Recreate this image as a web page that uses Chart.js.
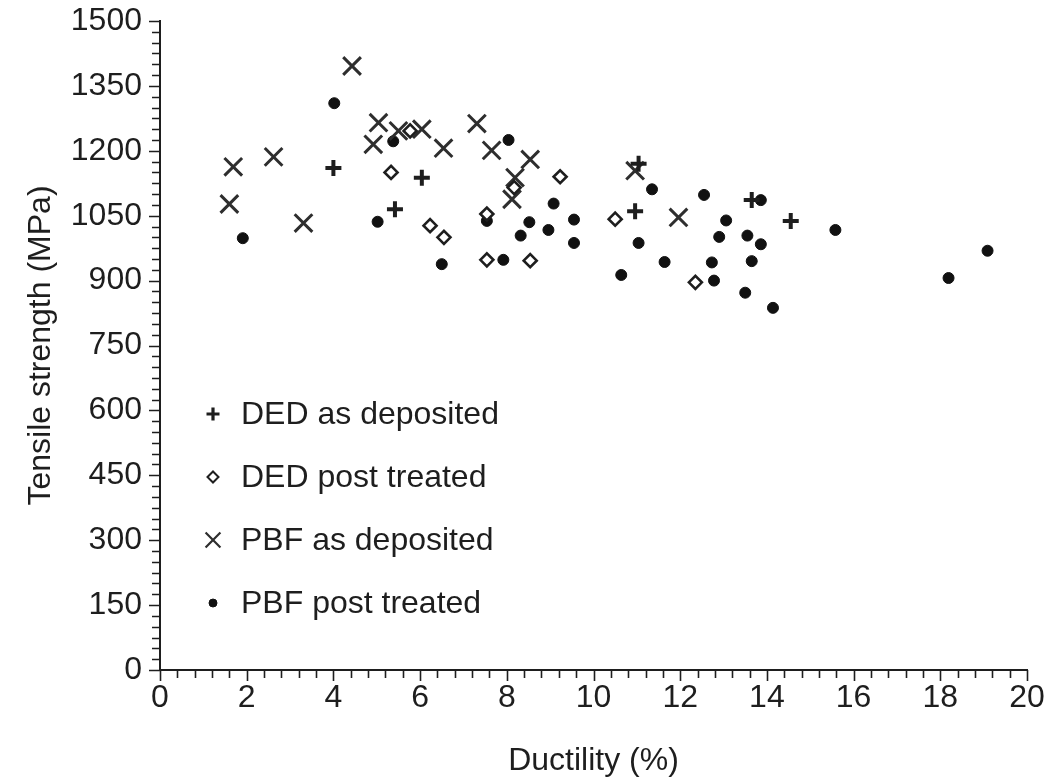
<!DOCTYPE html>
<html>
<head>
<meta charset="utf-8">
<script src="https://cdn.jsdelivr.net/npm/chart.js@4.4.1/dist/chart.umd.min.js"></script>
<style>
  html, body { margin: 0; padding: 0; background: #fff; }
</style>
</head>
<body>
<canvas id="chart" width="1051" height="780"></canvas>
<script>
/* ── data ── */
const seriesNames = ['DED as deposited', 'DED post treated', 'PBF as deposited', 'PBF post treated'];

const dedAsDepX = [4.0, 5.42, 6.04, 10.96, 11.04, 13.65, 14.55];
const dedAsDepY = [1160, 1065, 1138, 1060, 1170, 1086, 1038];

const dedPostX = [5.33, 5.77, 6.23, 6.55, 7.54, 7.54, 8.17, 8.54, 9.23, 10.5, 12.35];
const dedPostY = [1150, 1246, 1027, 1000, 1054, 948, 1115, 946, 1140, 1042, 896];

const pbfAsDepX = [1.6, 1.69, 2.62, 3.31, 4.43, 4.92, 5.04, 5.5, 6.04, 6.54, 7.31, 7.65, 8.12, 8.19, 8.54, 10.96, 11.96];
const pbfAsDepY = [1077, 1163, 1186, 1033, 1396, 1215, 1265, 1246, 1250, 1206, 1263, 1201, 1088, 1138, 1180, 1154, 1046];

const pbfPostX = [1.91, 4.02, 5.02, 5.38, 6.5, 7.54, 7.92, 8.04, 8.32, 8.52, 8.96, 9.08, 9.55, 9.55, 10.64, 11.04,
                  11.35, 11.64, 12.55, 12.73, 12.78, 12.9, 13.06, 13.5, 13.55, 13.65, 13.86, 13.86, 14.14, 15.58, 18.19, 19.09];
const pbfPostY = [998, 1310, 1036, 1222, 938, 1038, 948, 1225, 1004, 1035, 1017, 1078, 1041, 987, 913, 987,
                  1111, 943, 1098, 942, 900, 1001, 1039, 872, 1004, 945, 984, 1086, 837, 1017, 906, 969];

const xTickLabels = [0, 2, 4, 6, 8, 10, 12, 14, 16, 18, 20];
const yTickLabels = [0, 150, 300, 450, 600, 750, 900, 1050, 1200, 1350, 1500];

function pts(xs, ys) { return xs.map(function (x, i) { return { x: x, y: ys[i] }; }); }

const INK = '#1e1e1e';
const FONT = '"Liberation Sans", Arial, sans-serif';
const FS = 32;

/* ── minor / major tick marks (outward) ── */
const tickPlugin = {
  id: 'ticks',
  afterDraw: function (chart) {
    const ctx = chart.ctx, xs = chart.scales.x, ys = chart.scales.y;
    ctx.save();
    ctx.strokeStyle = INK;
    ctx.lineWidth = 1.6;
    ctx.beginPath();
    for (let i = 0; i <= 60; i++) {
      const v = i * 25, py = Math.round(ys.getPixelForValue(v)) + 0.5;
      const len = (v % 150 === 0) ? 11 : 8;
      ctx.moveTo(xs.left, py); ctx.lineTo(xs.left - len, py);
    }
    for (let i = 0; i <= 50; i++) {
      const v = i * 0.4, px = Math.round(xs.getPixelForValue(v)) + 0.5;
      const len = (i % 5 === 0) ? 11 : 8;
      ctx.moveTo(px, ys.bottom); ctx.lineTo(px, ys.bottom + len);
    }
    ctx.stroke();
    ctx.restore();
  }
};

/* ── legend inside the plot ── */
const legendPlugin = {
  id: 'innerLegend',
  afterDatasetsDraw: function (chart) {
    const ctx = chart.ctx, area = chart.chartArea;
    const styles = [
      { pointStyle: 'cross',    radius: 6.5, borderWidth: 3.2 },
      { pointStyle: 'rectRot',  radius: 5.5, borderWidth: 2 },
      { pointStyle: 'crossRot', radius: 10.5, borderWidth: 2.2 },
      { pointStyle: 'circle',   radius: 4,  borderWidth: 1 }
    ];
    ctx.save();
    chart.data.datasets.forEach(function (ds, i) {
      const mx = area.left + 53, my = area.top + 393 + i * 63;
      ctx.strokeStyle = ds.borderColor;
      ctx.fillStyle = ds.backgroundColor;
      ctx.lineWidth = styles[i].borderWidth;
      Chart.helpers.drawPoint(ctx, Object.assign({ rotation: 0 }, styles[i]), mx, my);
      ctx.fillStyle = INK;
      ctx.font = FS + 'px ' + FONT;
      ctx.textBaseline = 'middle';
      ctx.textAlign = 'left';
      ctx.fillText(ds.label, mx + 28, my + 1);
    });
    ctx.restore();
  }
};

new Chart(document.getElementById('chart'), {
  type: 'scatter',
  data: {
    datasets: [
      { label: seriesNames[0], data: pts(dedAsDepX, dedAsDepY), pointStyle: 'cross',
        pointRadius: 8, borderWidth: 4, borderColor: INK, backgroundColor: INK },
      { label: seriesNames[1], data: pts(dedPostX, dedPostY), pointStyle: 'rectRot',
        pointRadius: 6.5, borderWidth: 2.6, borderColor: INK, backgroundColor: '#ffffff' },
      { label: seriesNames[2], data: pts(pbfAsDepX, pbfAsDepY), pointStyle: 'crossRot',
        pointRadius: 12.5, borderWidth: 3, borderColor: '#2e2e2e', backgroundColor: '#2e2e2e' },
      { label: seriesNames[3], data: pts(pbfPostX, pbfPostY), pointStyle: 'circle',
        pointRadius: 5.5, borderWidth: 1, borderColor: '#111111', backgroundColor: '#111111' }
    ]
  },
  options: {
    responsive: false,
    animation: false,
    devicePixelRatio: 1,
    layout: { padding: { top: 21, right: 24, left: 0, bottom: 0 } },
    plugins: { legend: { display: false }, tooltip: { enabled: false } },
    scales: {
      x: {
        type: 'linear', min: 0, max: 20,
        afterFit: function (s) { s.height = 110; },
        afterBuildTicks: function (s) { s.ticks = xTickLabels.map(function (v) { return { value: v }; }); },
        grid: { display: false, drawTicks: true, tickLength: 9, tickColor: 'rgba(0,0,0,0)' },
        border: { display: true, color: INK, width: 2 },
        ticks: { color: INK, padding: 0, font: { family: FONT, size: FS }, maxRotation: 0,
                 callback: function (v) { return String(v); } },
        title: { display: true, text: 'Ductility (%)', color: INK, padding: { top: 0, bottom: 0 },
                 font: { family: FONT, size: FS } }
      },
      y: {
        type: 'linear', min: 0, max: 1500,
        afterFit: function (s) { s.width = 160; },
        afterBuildTicks: function (s) { s.ticks = yTickLabels.map(function (v) { return { value: v }; }); },
        grid: { display: false, drawTicks: true, tickLength: 18, tickColor: 'rgba(0,0,0,0)' },
        border: { display: true, color: INK, width: 2 },
        ticks: { color: INK, padding: 0, font: { family: FONT, size: FS },
                 callback: function (v) { return String(v); } },
        title: { display: true, text: 'Tensile strength (MPa)', color: INK, padding: { top: 22, bottom: 0 },
                 font: { family: FONT, size: FS } }
      }
    }
  },
  plugins: [tickPlugin, legendPlugin]
});
</script>
</body>
</html>
